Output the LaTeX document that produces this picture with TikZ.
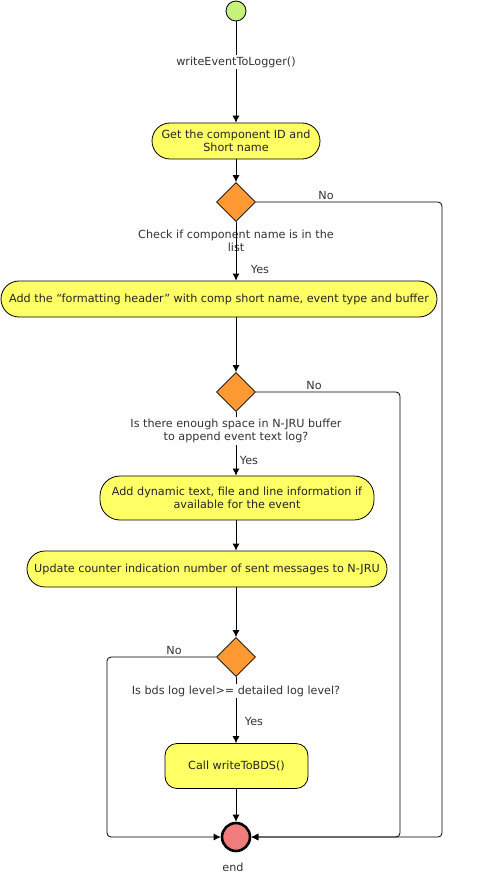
\documentclass[tikz,border=0pt]{standalone}
\usepackage{fontspec}
\setmainfont{DejaVu Sans}
\usetikzlibrary{shapes.geometric,arrows.meta}
\definecolor{startgreen}{RGB}{198,242,124}
\definecolor{actyellow}{RGB}{255,255,102}
\definecolor{choiceorange}{RGB}{255,153,51}
\definecolor{endred}{RGB}{240,124,124}
\definecolor{labelgray}{RGB}{51,51,51}

\begin{document}
\begin{tikzpicture}[x=1pt,y=-1pt,
  every node/.style={font=\fontsize{11.2}{13.5}\selectfont},
  activity/.style={shape=rectangle, rounded corners=18pt, draw, fill=actyellow, minimum height=36pt, align=center, inner sep=2pt, text=black!85},
  choice/.style={shape=diamond, draw, fill=choiceorange, minimum width=39pt, minimum height=39pt, inner sep=0pt},
  cond/.style={fill=white, align=center, inner sep=1pt, text=labelgray},
  flow/.style={-{Latex[length=7pt,width=7pt]}},
  line width=0.8pt]
%[inner sep=1mm]
\useasboundingbox (0,0) rectangle (478,877);

\path (236,11) node (start) [shape=circle, minimum size=20pt, inner sep=0pt, draw, fill=startgreen] {};
\path (236,62) node (call) [cond] {writeEventToLogger()};
\path (236,141) node (getid) [activity, minimum width=168pt] {Get the component ID and\\Short name};
\path (236,202) node (d1) [choice] {};
\path (236,241) node (q1) [cond, fill=none] {Check if component name is in the\\list};
\path (219,299) node (header) [activity, minimum width=436pt] {Add the “formatting header” with comp short name, event type and buffer};
\path (236,392) node (d2) [choice] {};
\path (236,431) node (q2) [cond] {Is there enough space in N-JRU buffer\\to append event text log?};
\path (237,498) node (dyntext) [activity, minimum width=274pt, minimum height=44pt, rounded corners=20pt] {Add dynamic text, file and line information if\\available for the event};
\path (207,569) node (counter) [activity, minimum width=360pt] {Update counter indication number of sent messages to N-JRU};
\path (236,657) node (d3) [choice] {};
\path (236,691) node (q3) [cond] {Is bds log level>= detailed log level?};
\path (236.5,766) node (bds) [activity, minimum width=143pt, minimum height=45pt, rounded corners=12pt] {Call writeToBDS()};
\path (236,837) node (end) [shape=circle, minimum size=28pt, inner sep=0pt, draw, line width=2.6pt, fill=endred] {};
\path (233,867) node (endlbl) [cond] {end};

\coordinate (r1) at (442,837);
\coordinate (r2) at (400,837);
\coordinate (l3) at (107,837);

\draw (start) -- (call);
\draw [flow] (call) -- (getid.north -| call);
\draw [flow] (getid.south -| d1) -- (d1);
\draw [flow] (d1) -- (header.north -| d1);
\draw [flow] (header.south -| d2) -- (d2);
\draw (d2) -- (q2);
\draw [flow] (q2) -- (dyntext.north -| q2);
\draw [flow] (dyntext.south -| d2) -- (counter.north -| d2);
\draw [flow] (counter.south -| d3) -- (d3);
\draw (d3) -- (q3);
\draw [flow] (q3) -- (bds.north -| q3);
\draw [flow] (bds.south -| end) -- (end);

\draw [flow, rounded corners=4pt] (d1.east) -| (r1) -- (end.east);
\draw [flow, rounded corners=4pt] (d2.east) -| (r2) -- (end.east);
\draw [flow, rounded corners=4pt] (d3.west) -| (l3) -- (end.west);

\path (260,269) node [text=labelgray] {Yes};
\path (326,195) node [text=labelgray] {No};
\path (249,460) node [text=labelgray] {Yes};
\path (314,385) node [text=labelgray] {No};
\path (254,721) node [text=labelgray] {Yes};
\path (174,650) node [text=labelgray] {No};

\end{tikzpicture}
\end{document}
